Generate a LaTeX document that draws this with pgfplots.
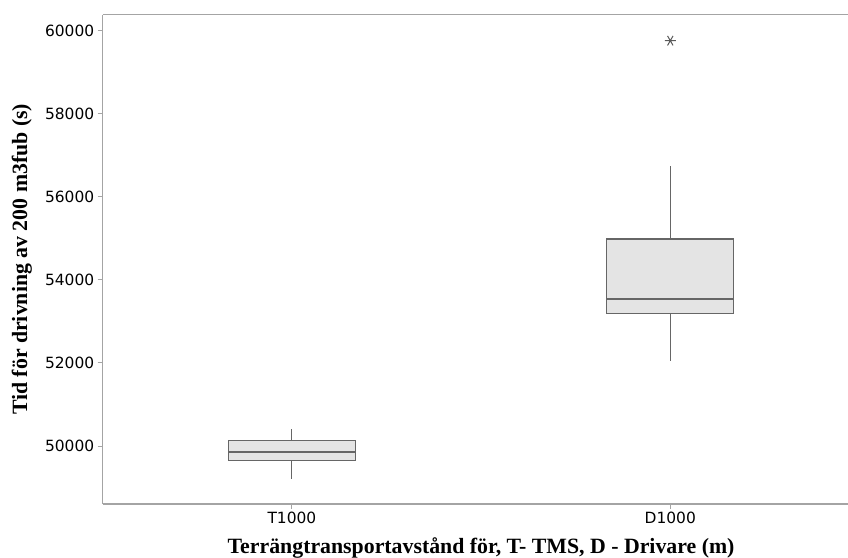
\documentclass[border=0pt]{standalone}
\usepackage{fontspec}
\setmainfont{DejaVu Sans}
\newfontfamily\serifb{Liberation Serif}
\usepackage{pgfplots}
\pgfplotsset{compat=1.18}
\definecolor{frame}{HTML}{A4A4A4}
\definecolor{boxfill}{HTML}{E4E4E4}
\definecolor{boxedge}{HTML}{666666}
\begin{document}
\begin{tikzpicture}
\begin{axis}[
  scale only axis, width=756.8bp, height=489.3bp,
  xmin=0.5, xmax=2.5, ymin=48604, ymax=60381,
  axis lines*=left,
  xtick={1,2}, xticklabels={T1000,D1000},
  ytick={50000,52000,54000,56000,58000,60000},
  tick align=outside, major tick length=5bp,
  axis line style={draw=frame, line width=1.2bp},
  tick style={draw=frame, line width=1bp},
  scaled y ticks=false,
  yticklabel style={/pgf/number format/1000 sep={}},
  /pgf/number format/assume math mode=true,
  tick label style={font=\fontsize{15.5}{17}\selectfont, text=black},
  xlabel={Terrängtransportavstånd för, T- TMS, D - Drivare (m)},
  ylabel={Tid för drivning av 200 m3fub (s)},
  label style={font=\serifb\bfseries\fontsize{21.9}{24}\selectfont},
  xlabel style={at={(axis description cs:0.5,0)}, anchor=base, yshift=-49bp},
  ylabel style={at={(axis description cs:-0.1069,0.5)}, anchor=center},
  clip=false,
]
% T1000: whiskers, box, median
\addplot[boxedge, line width=1.1bp] coordinates {(1,49206) (1,49646)};
\addplot[boxedge, line width=1.1bp] coordinates {(1,50137) (1,50416)};
\addplot[draw=boxedge, fill=boxfill, line width=1.1bp] coordinates {(0.832,49646) (1.168,49646) (1.168,50137) (0.832,50137)} -- cycle;
\addplot[boxedge, line width=1.1bp] coordinates {(0.832,49856) (1.168,49856)};
% D1000: whiskers, box, median
\addplot[boxedge, line width=1.1bp] coordinates {(2,52046) (2,53194)};
\addplot[boxedge, line width=1.1bp] coordinates {(2,54982) (2,56747)};
\addplot[draw=boxedge, fill=boxfill, line width=1.1bp] coordinates {(1.832,53194) (2.168,53194) (2.168,54982) (1.832,54982)} -- cycle;
\addplot[boxedge, line width=1.1bp] coordinates {(1.832,53538) (2.168,53538)};
% outlier
\addplot[only marks, mark=asterisk, mark size=5.5bp,
  mark options={rotate=90, draw=black!65, line width=1bp}] coordinates {(2,59756)};
\draw[frame, line width=1.2bp] (rel axis cs:0,1) -- (rel axis cs:1,1);
\end{axis}
\pgfresetboundingbox
\path[use as bounding box] (-102.7bp,-54bp) rectangle (745.3bp,504bp);
\end{tikzpicture}
\end{document}
